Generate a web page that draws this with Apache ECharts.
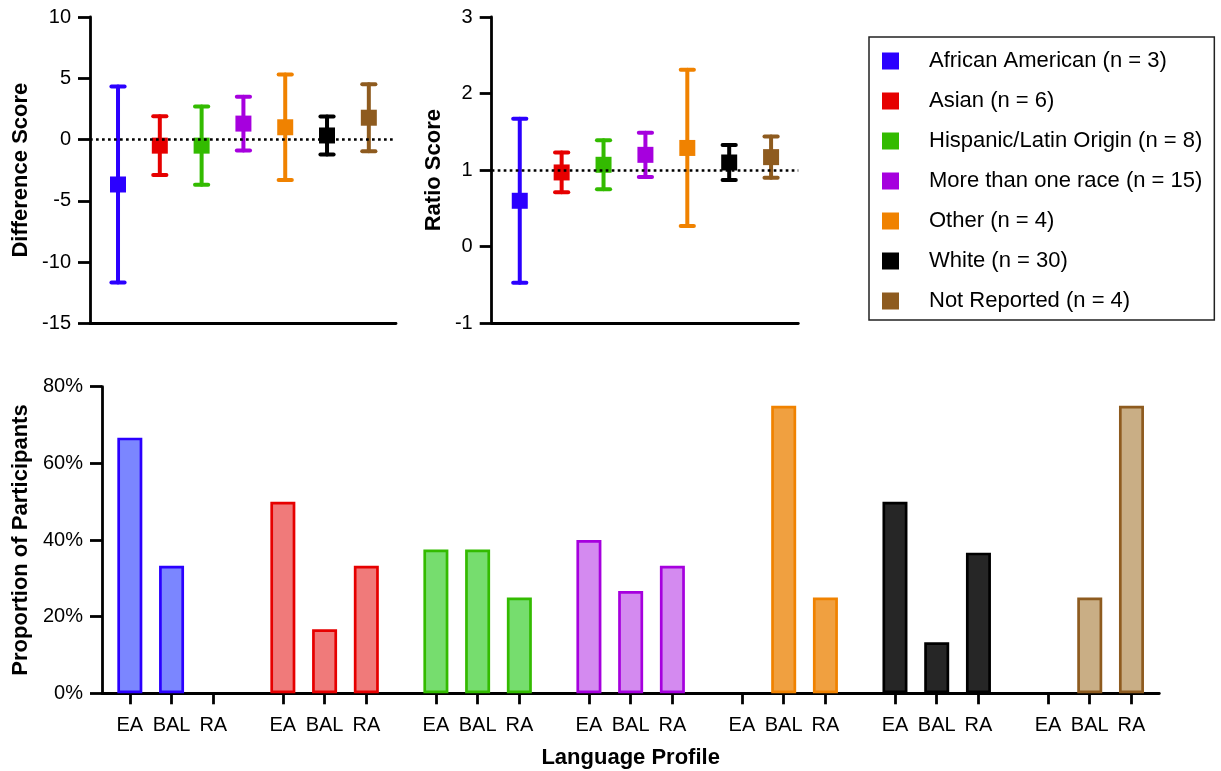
<!DOCTYPE html>
<html>
<head>
<meta charset="utf-8">
<script src="https://cdn.jsdelivr.net/npm/echarts@6/dist/echarts.min.js"></script>
<style>
  html, body { margin: 0; padding: 0; background: #fff; }
  #chart { width: 1221px; height: 771px; }
</style>
</head>
<body>
<div id="chart"></div>
<script>
// Groups (race / ethnicity) with sample sizes
const groups = ['African American (n = 3)', 'Asian (n = 6)', 'Hispanic/Latin Origin (n = 8)',
  'More than one race (n = 15)', 'Other (n = 4)', 'White (n = 30)', 'Not Reported (n = 4)'];
const lineColors = ['#2B00FF', '#E60000', '#33BB00', '#A600DE', '#F08200', '#000000', '#8E5B1F'];
const fillColors = ['#7B86FF', '#F07A7A', '#76DD6E', '#D48AF0', '#F0A040', '#262626', '#C9AE85'];

// Difference score: mean and error half-width
const diffMean = [-3.67, -0.5, -0.5, 1.3, 1.0, 0.33, 1.78];
const diffErr = [8.0, 2.4, 3.2, 2.2, 4.3, 1.55, 2.73];

// Ratio score: mean and error half-width
const ratioMean = [0.6, 0.97, 1.07, 1.2, 1.29, 1.1, 1.17];
const ratioErr = [1.07, 0.26, 0.32, 0.29, 1.02, 0.23, 0.27];

// Language profile proportions (%)
const profiles = ['EA', 'BAL', 'RA'];
const propEA = [66.7, 50, 37.5, 40, 0, 50, 0];
const propBAL = [33.3, 16.7, 37.5, 26.7, 75, 13.3, 25];
const propRA = [0, 33.3, 25, 33.3, 25, 36.7, 75];

const FONT = 'Liberation Sans';
const props = [propEA, propBAL, propRA];

// slot layout for the grouped bar axis: 3 bars per group, gap between groups
const SLOT = 3, GROUP = 11, OFFSET = 2;
const barPos = (g, i) => OFFSET + g * GROUP + i * SLOT;

const tickPositions = [];
const tickNames = {};
groups.forEach((_, g) => profiles.forEach((p, i) => {
  const x = barPos(g, i);
  tickPositions.push(x);
  tickNames[x] = p;
}));

const axisLineStyle = { color: '#000', width: 2.8 };

function scoreXAxis(gridIndex) {
  return {
    type: 'value', gridIndex, min: 0.33, max: 7.65,
    axisLine: { show: true, onZero: false, lineStyle: axisLineStyle },
    axisTick: { show: false }, axisLabel: { show: false }, splitLine: { show: false }
  };
}
function scoreYAxis(gridIndex, min, max, interval, name, gap) {
  return {
    type: 'value', gridIndex, min, max, interval,
    name, nameLocation: 'middle', nameGap: gap,
    nameTextStyle: { fontFamily: FONT, fontSize: 22, fontWeight: 'bold', color: '#000' },
    axisLine: { show: true, onZero: false, lineStyle: axisLineStyle },
    axisTick: { show: true, length: 12, lineStyle: axisLineStyle },
    axisLabel: { fontFamily: FONT, fontSize: 20, color: '#000', margin: 19 },
    splitLine: { show: false }
  };
}

function errorBarSeries(g, axisIndex, means, errs, refValue) {
  const s = {
    type: 'custom', name: groups[g], xAxisIndex: axisIndex, yAxisIndex: axisIndex, z: 2,
    data: [[g + 1, means[g] - errs[g], means[g] + errs[g]]],
    encode: { x: 0, y: [1, 2] },
    renderItem(params, api) {
      const x = api.value(0);
      const lo = api.coord([x, api.value(1)]);
      const hi = api.coord([x, api.value(2)]);
      const hw = 6.6;
      const st = { stroke: lineColors[g], lineWidth: 4, lineCap: 'round' };
      return {
        type: 'group', children: [
          { type: 'line', shape: { x1: hi[0], y1: hi[1], x2: lo[0], y2: lo[1] }, style: st },
          { type: 'line', shape: { x1: hi[0] - hw, y1: hi[1], x2: hi[0] + hw, y2: hi[1] }, style: st },
          { type: 'line', shape: { x1: lo[0] - hw, y1: lo[1], x2: lo[0] + hw, y2: lo[1] }, style: st }
        ]
      };
    }
  };
  if (refValue !== undefined) {
    s.markLine = {
      silent: true, symbol: ['none', 'none'],
      label: { show: false },
      lineStyle: { color: '#000', width: 2.7, type: [2.7, 3.3] },
      data: [{ yAxis: refValue }]
    };
  }
  return s;
}
function meanSeries(g, axisIndex, means) {
  return {
    type: 'scatter', name: groups[g], xAxisIndex: axisIndex, yAxisIndex: axisIndex, z: 3,
    symbol: 'rect', symbolSize: 16,
    itemStyle: { color: lineColors[g], opacity: 1 },
    data: [[g + 1, means[g]]]
  };
}

const series = [];
groups.forEach((_, g) => {
  series.push(meanSeries(g, 0, diffMean));
  series.push(errorBarSeries(g, 0, diffMean, diffErr, g === 0 ? 0 : undefined));
  series.push(meanSeries(g, 1, ratioMean));
  series.push(errorBarSeries(g, 1, ratioMean, ratioErr, g === 0 ? 1 : undefined));
});

const barData = [];
groups.forEach((_, g) => profiles.forEach((p, i) => {
  const v = props[i][g];
  barData.push({
    value: [barPos(g, i), v],
    itemStyle: { color: fillColors[g], borderColor: lineColors[g], borderWidth: v > 0 ? 2.7 : 0 }
  });
}));
series.push({
  type: 'bar', name: 'Proportion', xAxisIndex: 2, yAxisIndex: 2,
  barWidth: 25, data: barData
});

const option = {
  animation: false,
  backgroundColor: '#fff',
  textStyle: { fontFamily: FONT },
  grid: [
    { left: 90, top: 17, width: 306, height: 306.3 },
    { left: 491.7, top: 17, width: 306.6, height: 306.3 },
    { left: 102, top: 386.7, width: 1057.3, height: 306.6 }
  ],
  legend: {
    data: groups, orient: 'vertical', left: 869, top: 37,
    icon: 'rect', itemWidth: 17, itemHeight: 17, itemGap: 18,
    borderColor: '#222', borderWidth: 1.5, padding: [13, 12, 8, 13],
    textStyle: { fontFamily: FONT, fontSize: 22, color: '#000', padding: [0, 0, 0, 25] }
  },
  xAxis: [
    scoreXAxis(0),
    scoreXAxis(1),
    {
      type: 'value', gridIndex: 2, min: 0, max: 76,
      name: 'Language Profile', nameLocation: 'middle', nameGap: 54,
      nameTextStyle: { fontFamily: FONT, fontSize: 22, fontWeight: 'bold', color: '#000' },
      axisLine: { show: true, onZero: false, lineStyle: axisLineStyle },
      axisTick: { show: true, length: 11, customValues: tickPositions, lineStyle: axisLineStyle },
      axisLabel: {
        customValues: tickPositions, fontFamily: FONT, fontSize: 20, color: '#000', margin: 22,
        formatter: v => tickNames[v] || ''
      },
      splitLine: { show: false }
    }
  ],
  yAxis: [
    scoreYAxis(0, -15, 10, 5, 'Difference Score', 58),
    scoreYAxis(1, -1, 3, 1, 'Ratio Score', 47),
    Object.assign(scoreYAxis(2, 0, 80, 20, 'Proportion of Participants', 70), {
      axisLabel: { fontFamily: FONT, fontSize: 20, color: '#000', margin: 19, formatter: '{value}%' }
    })
  ],
  series
};

const chart = echarts.init(document.getElementById('chart'), null, { renderer: 'canvas' });
chart.setOption(option);
</script>
</body>
</html>
